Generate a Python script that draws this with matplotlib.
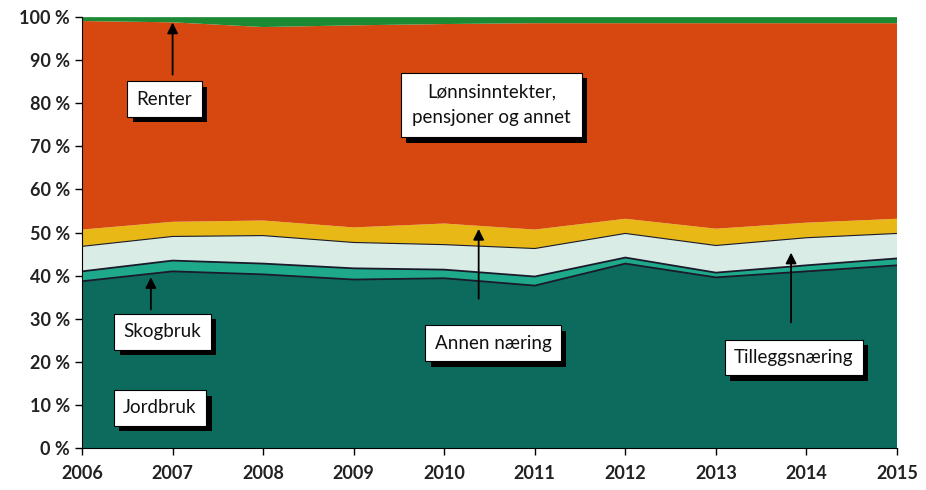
import matplotlib.pyplot as plt
import matplotlib.patheffects as pe
from matplotlib.ticker import FuncFormatter

plt.rcParams['font.family'] = ['Lato', 'DejaVu Sans']

years = [2006, 2007, 2008, 2009, 2010, 2011, 2012, 2013, 2014, 2015]
jordbruk = [38.7, 41.0, 40.3, 39.1, 39.4, 37.7, 42.8, 39.6, 41.0, 42.4]
skogbruk = [2.3, 2.5, 2.5, 2.6, 2.0, 2.1, 1.4, 1.1, 1.4, 1.6]
tillegg = [5.8, 5.6, 6.5, 6.0, 5.8, 6.5, 5.6, 6.3, 6.4, 5.8]
annen = [3.9, 3.4, 3.5, 3.5, 4.9, 4.4, 3.4, 3.9, 3.5, 3.4]
renter = [0.9, 1.2, 2.3, 1.9, 1.6, 1.4, 1.4, 1.4, 1.4, 1.4]
lonn = [100 - a - b - c - d - e for a, b, c, d, e in zip(jordbruk, skogbruk, tillegg, annen, renter)]

farger = ['#0d6b5e', '#1fa98b', '#d9ece6', '#e8b817', '#d6480f', '#1c8a34']

fig = plt.figure(figsize=(9.26, 4.9), dpi=100)
ax = fig.add_axes([0.0886, 0.0857, 0.8801, 0.8793])

ax.stackplot(years, jordbruk, skogbruk, tillegg, annen, lonn, renter, colors=farger, lw=0)

# mørke streker mellom de nederste lagene
kum = [0] * len(years)
for serie, lw in [(jordbruk, 1.3), (skogbruk, 1.3), (tillegg, 0.8)]:
    kum = [k + s for k, s in zip(kum, serie)]
    ax.plot(years, kum, color='#1a1a2a', lw=lw)

ax.set_xlim(2006, 2015)
ax.set_ylim(0, 100)
ax.set_xticks(years)
ax.set_yticks(range(0, 101, 10))
ax.yaxis.set_major_formatter(FuncFormatter(lambda v, p: f'{v:.0f} %'))
ax.tick_params(direction='out', length=5, labelsize=13, width=1)
ax.tick_params(axis='x', pad=7)
for t in ax.get_xticklabels() + ax.get_yticklabels():
    t.set_color('#222222')
    t.set_fontweight('bold')
ax.spines['top'].set_visible(False)
ax.spines['right'].set_visible(False)


def etikett(x, y, tekst, pad=0.5):
    t = ax.text(x, y, tekst, ha='center', va='center', fontsize=13.5, color='#111111',
                linespacing=1.6,
                bbox=dict(boxstyle=f'square,pad={pad}', fc='white', ec='black', lw=0.8))
    t.get_bbox_patch().set_path_effects([
        pe.SimplePatchShadow(offset=(4, -4), shadow_rgbFace='black', alpha=1),
        pe.Normal()])


def pil(x, y0, y1):
    ax.annotate('', xy=(x, y1), xytext=(x, y0),
                arrowprops=dict(arrowstyle='-|>', color='black', lw=1.3, mutation_scale=16))


pil(2007.0, 86, 99.4)
pil(2006.76, 31.5, 40.3)
pil(2010.38, 34, 51.5)
pil(2013.83, 28.5, 46)

etikett(2006.91, 81, 'Renter')
etikett(2010.52, 79.6, 'Lønnsinntekter,\npensjoner og annet', pad=0.6)
etikett(2006.89, 27, 'Skogbruk')
etikett(2006.86, 9.3, 'Jordbruk')
etikett(2010.54, 24.3, 'Annen næring')
etikett(2013.86, 21, 'Tilleggsnæring')

fig.savefig('out.png', dpi=100)
